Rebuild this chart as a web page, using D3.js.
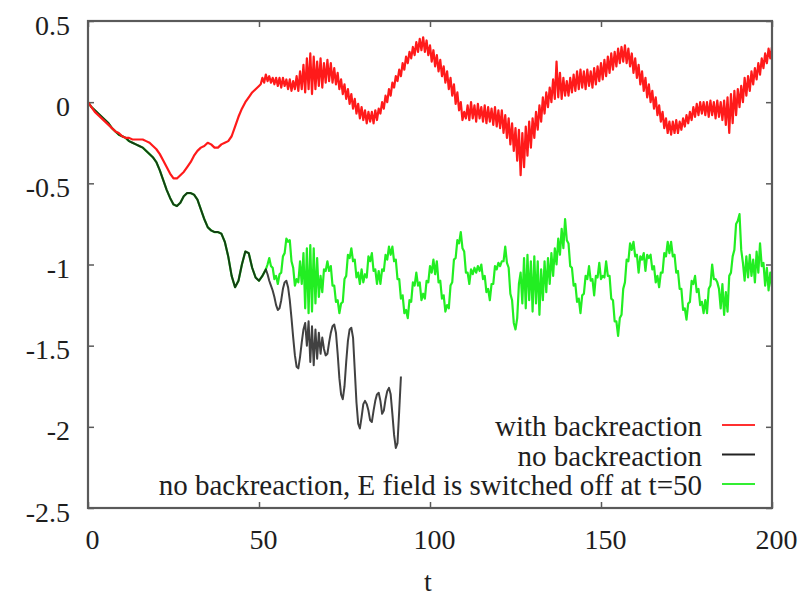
<!DOCTYPE html>
<html>
<head>
<meta charset="utf-8">
<script src="https://cdn.jsdelivr.net/npm/d3@7"></script>
<style>
  html, body { margin: 0; padding: 0; background: #fff; }
  svg { display: block; }
  text { font-family: "Liberation Serif", "Times New Roman", serif; fill: #1e1e1e; }
</style>
</head>
<body>
<svg id="chart" width="812" height="596"></svg>
<script>
// Axis ticks
const xTicks = [0, 50, 100, 150, 200];
const yTicks = [0.5, 0, -0.5, -1, -1.5, -2, -2.5];

// Series labels
const seriesNames = [
  "with backreaction",
  "no backreaction",
  "no backreaction, E field is switched off at t=50"
];

// With backreaction: t = 0..50, step 1
const redEarly = [
  0, -0.03, -0.06, -0.08, -0.1, -0.12, -0.14, -0.16, -0.18, -0.19,
  -0.21, -0.22, -0.22, -0.23, -0.23, -0.23, -0.23, -0.24, -0.25, -0.27,
  -0.29, -0.32, -0.36, -0.4, -0.44, -0.47, -0.47, -0.45, -0.43, -0.4,
  -0.37, -0.33, -0.3, -0.28, -0.27, -0.25, -0.26, -0.28, -0.28, -0.26,
  -0.25, -0.24, -0.21, -0.15, -0.09, -0.04, 0.0, 0.03, 0.06, 0.08,
  0.1
];
// With backreaction: t = 50.5..200, step 0.5
const redLate = [
  0.11, 0.15, 0.12, 0.17, 0.13, 0.16, 0.12, 0.15, 0.11, 0.15,
  0.1, 0.15, 0.09, 0.15, 0.1, 0.14, 0.08, 0.14, 0.07, 0.13,
  0.08, 0.16, 0.07, 0.19, 0.08, 0.23, 0.06, 0.27, 0.08, 0.3,
  0.05, 0.28, 0.08, 0.25, 0.1, 0.27, 0.09, 0.24, 0.12, 0.26,
  0.13, 0.24, 0.12, 0.21, 0.11, 0.18, 0.08, 0.14, 0.05, 0.11,
  0.02, 0.08, -0.01, 0.05, -0.04, 0.02, -0.07, -0.01, -0.1, -0.03,
  -0.11, -0.05, -0.13, -0.06, -0.12, -0.06, -0.13, -0.05, -0.11, -0.04,
  -0.07, 0.0, -0.04, 0.04, 0.0, 0.08, 0.04, 0.12, 0.09, 0.16,
  0.13, 0.2, 0.16, 0.24, 0.2, 0.28, 0.24, 0.31, 0.27, 0.34,
  0.29, 0.37, 0.31, 0.39, 0.32, 0.4, 0.31, 0.38, 0.29, 0.35,
  0.25, 0.32, 0.22, 0.29, 0.19, 0.26, 0.16, 0.22, 0.12, 0.19,
  0.08, 0.15, 0.04, 0.11, -0.01, 0.06, -0.05, 0.0, -0.11, -0.06,
  -0.1, -0.02, -0.11, 0.0, -0.1, -0.02, -0.12, -0.01, -0.1, -0.03,
  -0.12, -0.02, -0.13, -0.03, -0.12, -0.04, -0.14, -0.03, -0.15, -0.05,
  -0.16, -0.05, -0.19, -0.08, -0.22, -0.1, -0.26, -0.13, -0.3, -0.16,
  -0.36, -0.17, -0.45, -0.19, -0.4, -0.15, -0.33, -0.12, -0.28, -0.1,
  -0.22, -0.06, -0.17, -0.02, -0.12, 0.03, -0.07, 0.06, -0.03, 0.09,
  0.0, 0.14, 0.02, 0.25, 0.03, 0.18, 0.02, 0.15, 0.04, 0.13,
  0.04, 0.15, 0.06, 0.17, 0.07, 0.19, 0.08, 0.2, 0.09, 0.19,
  0.08, 0.2, 0.1, 0.19, 0.09, 0.21, 0.11, 0.22, 0.13, 0.24,
  0.14, 0.26, 0.16, 0.28, 0.18, 0.3, 0.2, 0.31, 0.22, 0.33,
  0.24, 0.34, 0.25, 0.35, 0.24, 0.33, 0.22, 0.3, 0.18, 0.27,
  0.15, 0.23, 0.11, 0.19, 0.07, 0.15, 0.03, 0.11, 0.0, 0.07,
  -0.04, 0.03, -0.08, -0.02, -0.12, -0.06, -0.16, -0.1, -0.19, -0.12,
  -0.2, -0.12, -0.19, -0.11, -0.19, -0.12, -0.17, -0.1, -0.15, -0.08,
  -0.13, -0.06, -0.11, -0.03, -0.09, -0.01, -0.08, 0.0, -0.07, 0.0,
  -0.08, 0.0, -0.09, 0.01, -0.08, 0.0, -0.1, 0.01, -0.09, 0.0,
  -0.11, 0.01, -0.14, 0.03, -0.19, 0.05, -0.13, 0.07, -0.08, 0.08,
  -0.03, 0.1, 0.0, 0.15, 0.04, 0.16, 0.07, 0.19, 0.11, 0.21,
  0.14, 0.24, 0.17, 0.27, 0.21, 0.3, 0.24, 0.33, 0.27, 0.34
];

// No backreaction (shared by both runs up to the switch-off): t = 0..52, step 1
const noBackEarly = [
  0, -0.03, -0.05, -0.07, -0.09, -0.11, -0.13, -0.16, -0.18, -0.2,
  -0.21, -0.22, -0.24, -0.25, -0.26, -0.27, -0.28, -0.3, -0.32, -0.34,
  -0.37, -0.42, -0.48, -0.54, -0.59, -0.63, -0.64, -0.62, -0.58, -0.56,
  -0.56, -0.57, -0.6, -0.66, -0.72, -0.77, -0.79, -0.8, -0.8, -0.81,
  -0.86, -0.95, -1.07, -1.14, -1.1, -1.0, -0.92, -0.93, -1.02, -1.08,
  -1.1, -1.07, -1.03
];
// No backreaction, field kept on: t = 52.5..91.5, step 0.5
const noBackLate = [
  -1.06, -1.1, -1.13, -1.16, -1.2, -1.25, -1.28, -1.27, -1.22, -1.15,
  -1.11, -1.1, -1.14, -1.22, -1.33, -1.45, -1.56, -1.63, -1.64, -1.57,
  -1.48, -1.4, -1.36, -1.5, -1.35, -1.6, -1.38, -1.62, -1.4, -1.58,
  -1.42, -1.55, -1.45, -1.52, -1.56, -1.55, -1.48, -1.42, -1.38, -1.37,
  -1.42, -1.55, -1.7, -1.8, -1.83, -1.75, -1.6, -1.47, -1.4, -1.39,
  -1.45, -1.65, -1.85, -1.98, -2.01, -1.94, -1.86, -1.84, -1.86, -1.9,
  -1.96, -1.97, -1.9, -1.84, -1.8, -1.79, -1.84, -1.92, -1.9, -1.83,
  -1.78, -1.76, -1.8, -1.92, -2.05, -2.13, -2.1, -1.9, -1.69
];
// No backreaction, field switched off at t=50: t = 52.5..200, step 0.5
const switchOffLate = [
  -1.0, -0.96, -1.01, -1.02, -1.09, -1.07,
  -1.12, -1.06, -1.05, -0.95, -0.93, -0.84, -0.86, -0.85, -0.98, -1.02,
  -1.13, -1.09, -1.11, -0.98, -1.12, -0.93, -1.27, -0.9, -1.3, -0.88,
  -1.29, -0.9, -1.24, -0.96, -1.2, -1.07, -1.17, -1.03, -1.04, -0.98,
  -1.04, -1.01, -1.13, -1.13, -1.23, -1.22, -1.3, -1.24, -1.23, -1.09,
  -1.07, -0.94, -0.96, -0.9, -0.98, -0.97, -1.08, -1.05, -1.12, -1.03,
  -1.11, -1.06, -1.08, -0.95, -0.98, -0.93, -1.04, -1.03, -1.12, -1.04,
  -1.12, -1.03, -1.04, -0.94, -0.97, -0.89, -0.94, -0.89, -0.98, -0.97,
  -1.09, -1.09, -1.21, -1.19, -1.3, -1.28, -1.33, -1.22, -1.23, -1.11,
  -1.13, -1.05, -1.13, -1.11, -1.22, -1.18, -1.21, -1.1, -1.11, -1.01,
  -1.05, -0.97, -1.06, -0.98, -1.11, -1.1, -1.21, -1.19, -1.29, -1.25,
  -1.27, -1.13, -1.11, -0.97, -0.96, -0.85, -0.87, -0.8, -0.9, -0.92,
  -1.05, -1.05, -1.12, -1.03, -1.06, -1.02, -1.05, -1.01, -1.04, -1.0,
  -1.09, -1.07, -1.17, -1.15, -1.22, -1.12, -1.12, -1.01, -1.03, -0.99,
  -1.01, -0.98, -0.98, -0.89, -0.99, -1.02, -1.18, -1.22, -1.36, -1.4,
  -1.33, -1.12, -1.05, -1.24, -0.96, -1.27, -0.94, -1.22, -0.98, -1.29,
  -0.95, -1.24, -0.98, -1.31, -1.03, -1.22, -0.98, -1.17, -0.96, -1.12,
  -0.93, -1.07, -0.9, -1.0, -0.84, -0.94, -0.78, -0.9, -0.72, -0.85,
  -0.87, -1.01, -1.02, -1.13, -1.12, -1.23, -1.21, -1.3, -1.19, -1.18,
  -1.07, -1.09, -1.01, -1.1, -1.09, -1.19, -1.07, -1.08, -0.99, -1.09,
  -1.07, -1.08, -0.98, -1.07, -1.07, -1.21, -1.22, -1.35, -1.35, -1.44,
  -1.33, -1.31, -1.15, -1.11, -0.97, -0.98, -0.87, -0.91, -0.86, -0.95,
  -0.94, -1.05, -0.95, -0.97, -0.93, -1.04, -0.94, -0.96, -0.94, -1.03,
  -1.01, -1.11, -1.07, -1.14, -1.05, -1.05, -0.93, -0.95, -0.86, -0.93,
  -0.86, -0.95, -0.94, -1.05, -1.04, -1.15, -1.15, -1.28, -1.27, -1.34,
  -1.24, -1.23, -1.1, -1.12, -1.07, -1.17, -1.15, -1.25, -1.23, -1.3,
  -1.22, -1.3, -1.15, -1.13, -1.0, -1.09, -1.09, -1.11, -1.15, -1.27,
  -1.12, -1.31, -1.17, -1.29, -1.07, -1.05, -0.95, -0.91, -0.75, -0.73,
  -0.69, -0.91, -0.99, -1.1, -0.95, -1.08, -0.94, -1.07, -0.97, -1.11,
  -0.92, -1.05, -0.87, -1.01, -0.99, -1.13, -1.02, -1.16, -1.05, -1.14
];

// Attach sample times to a block of values
function timed(values, t0, dt) {
  return values.map((v, i) => ({ t: t0 + i * dt, v }));
}

const redData = timed(redEarly, 0, 1).concat(timed(redLate, 50.5, 0.5));
const blackData = timed(noBackEarly, 0, 1).concat(timed(noBackLate, 52.5, 0.5));
const greenData = timed(noBackEarly, 0, 1).concat(timed(switchOffLate, 52.5, 0.5));

const svg = d3.select("#chart");
const frame = { left: 88, right: 772, top: 21, bottom: 508 };
const fontSize = 28;
const legendFontSize = 29;
const frameColor = "#5a5a5a";

const x = d3.scaleLinear().domain([0, 200]).range([frame.left, frame.right]);
const y = d3.scaleLinear().domain([-2.5, 0.5]).range([frame.bottom, frame.top]);

const fmt = d => String(d);

// Axes with inward ticks, mirrored on the opposite sides
function styleAxis(g) {
  g.attr("font-family", null).attr("font-size", null);
  g.select(".domain").remove();
  g.selectAll(".tick line").attr("stroke", frameColor).attr("stroke-width", 1.5);
  g.selectAll(".tick text")
    .attr("fill", "#1e1e1e")
    .style("font-size", fontSize + "px");
}

svg.append("g")
  .attr("transform", `translate(${frame.left},0)`)
  .call(d3.axisLeft(y).tickValues(yTicks).tickSize(-6).tickPadding(18).tickFormat(fmt))
  .call(styleAxis)
  .call(g => g.selectAll(".tick text").attr("dy", "0.36em").attr("y", 3));

svg.append("g")
  .attr("transform", `translate(${frame.right},0)`)
  .call(d3.axisRight(y).tickValues(yTicks).tickSize(-6).tickFormat(""))
  .call(styleAxis);

svg.append("g")
  .attr("transform", `translate(0,${frame.bottom})`)
  .call(d3.axisBottom(x).tickValues(xTicks).tickSize(-6).tickPadding(21).tickFormat(fmt))
  .call(styleAxis)
  .call(g => g.selectAll(".tick text").attr("dx", 4));

svg.append("g")
  .attr("transform", `translate(0,${frame.top})`)
  .call(d3.axisTop(x).tickValues(xTicks).tickSize(-6).tickFormat(""))
  .call(styleAxis);

// Axis title
svg.append("text")
  .attr("x", x(100) - 2)
  .attr("y", 591)
  .attr("text-anchor", "middle")
  .style("font-size", fontSize + "px")
  .text("t");

// Curves
const line = d3.line()
  .x(d => x(d.t))
  .y(d => y(d.v));

const plot = svg.append("g");

plot.append("path")
  .datum(greenData)
  .attr("fill", "none")
  .attr("stroke", "#22ee22")
  .attr("stroke-width", 2.2)
  .attr("stroke-linejoin", "round")
  .attr("d", line);

plot.append("path")
  .datum(blackData)
  .attr("fill", "none")
  .attr("stroke", "#111")
  .attr("stroke-opacity", 0.8)
  .attr("stroke-width", 2)
  .attr("stroke-linejoin", "round")
  .attr("d", line);

plot.append("path")
  .datum(redData)
  .attr("fill", "none")
  .attr("stroke", "#ff1a1a")
  .attr("stroke-width", 2.2)
  .attr("stroke-linejoin", "round")
  .attr("d", line);

// Frame
svg.append("rect")
  .attr("x", frame.left).attr("y", frame.top)
  .attr("width", frame.right - frame.left).attr("height", frame.bottom - frame.top)
  .attr("fill", "none")
  .attr("stroke", frameColor)
  .attr("stroke-width", 2.2);

// Legend
const legendColors = ["#ff3030", "#222", "#33ee33"];
const legend = svg.append("g");
seriesNames.forEach((name, i) => {
  const ly = 425 + i * 29.5;
  legend.append("text")
    .attr("x", 702)
    .attr("y", ly + 11)
    .attr("text-anchor", "end")
    .style("font-size", legendFontSize + "px")
    .text(name);
  legend.append("line")
    .attr("x1", 722).attr("x2", 755)
    .attr("y1", ly).attr("y2", ly)
    .attr("stroke", legendColors[i])
    .attr("stroke-width", 1.8);
});
</script>
</body>
</html>
